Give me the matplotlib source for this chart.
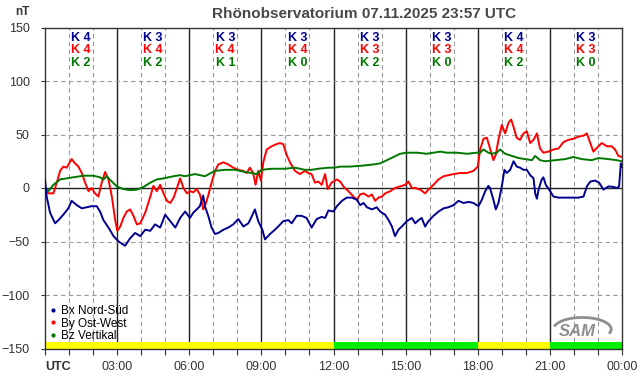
import numpy as np
import matplotlib.pyplot as plt
from matplotlib.patches import Arc

# Bx Nord-Süd (hours, nT)
bx_t = [0, 0.07, 0.21, 0.42, 0.56, 0.76, 0.97, 1.11, 1.32, 1.53, 1.74, 1.94, 2.15, 2.29, 2.43, 2.64, 2.85,
        3.06, 3.33, 3.54, 3.75, 3.96, 4.17, 4.38, 4.58, 4.79, 5.0, 5.21, 5.42, 5.62, 5.83, 6.03, 6.17,
        6.31, 6.44, 6.58, 6.65, 6.79, 6.93, 7.07, 7.21, 7.42, 7.62, 7.83, 8.04, 8.25, 8.46, 8.59, 8.73,
        8.87, 9.04, 9.15, 9.36, 9.56, 9.7, 9.91, 10.12, 10.26, 10.47, 10.67, 10.88, 11.09, 11.3, 11.51,
        11.65, 11.79, 12.0, 12.14, 12.35, 12.55, 12.76, 12.97, 13.11, 13.25, 13.39, 13.6, 13.8, 13.94,
        14.15, 14.29, 14.43, 14.56, 14.7, 14.84, 15.05, 15.26, 15.4, 15.54, 15.67, 15.81, 15.95, 16.16,
        16.37, 16.58, 16.78, 16.99, 17.2, 17.41, 17.62, 17.82, 18.03, 18.17, 18.31, 18.44, 18.51, 18.65,
        18.75, 18.86, 19.0, 19.11, 19.21, 19.35, 19.49, 19.62, 19.76, 19.9, 20.04, 20.18, 20.32, 20.39,
        20.46, 20.53, 20.66, 20.73, 20.83, 20.97, 21.15, 21.36, 21.64, 21.91, 22.19, 22.4, 22.54, 22.68,
        22.88, 23.05, 23.23, 23.44, 23.65, 23.78, 23.88, 23.95, 23.99]
bx_v = [8, -8, -23, -33, -30, -25, -19, -12, -16, -19, -18, -17, -17, -22, -30, -37, -45,
        -50, -54, -47, -42, -45, -39, -40, -34, -37, -25, -31, -37, -28, -22, -28, -23,
        -20, -17, -7, -17, -26, -37, -43, -42, -39, -37, -34, -29, -36, -33, -27, -20,
        -31, -39, -48, -43, -39, -36, -31, -30, -33, -26, -26, -28, -37, -29, -27,
        -28, -21, -22, -17, -12, -9, -9, -11, -16, -14, -18, -20, -18, -22,
        -25, -30, -36, -45, -39, -36, -31, -28, -33, -30, -28, -36, -31, -26,
        -22, -19, -18, -16, -12, -14, -13, -14, -17, -11, -3, 2, 0, -11,
        -20, -14, 1.5, 17, 14, 17, 25, 20, 19, 17, 17, 12, 9, -5,
        -10, -1.5, 8, 10, 3, -1.5, -8, -9, -9, -9, -9, -8, 1.5, 6,
        7, 5, -1.5, 1.5, 1, 0, 1.5, 23, 20]

# By Ost-West
by_t = [0, 0.14, 0.35, 0.49, 0.63, 0.76, 0.9, 1.11, 1.25, 1.39, 1.53, 1.67, 1.81, 1.94, 2.08, 2.22, 2.36,
        2.5, 2.64, 2.78, 2.92, 3.01, 3.13, 3.26, 3.4, 3.54, 3.68, 3.82, 3.96, 4.17, 4.38, 4.51, 4.65,
        4.79, 4.93, 5.07, 5.21, 5.35, 5.49, 5.62, 5.76, 5.9, 6.03, 6.17, 6.31, 6.44, 6.51, 6.58, 6.68,
        6.79, 6.93, 7.07, 7.21, 7.42, 7.62, 7.83, 8.04, 8.25, 8.39, 8.52, 8.66, 8.76, 8.87, 8.98, 9.08,
        9.22, 9.43, 9.63, 9.77, 9.91, 10.05, 10.19, 10.4, 10.6, 10.81, 10.95, 11.09, 11.23, 11.37, 11.51,
        11.65, 11.76, 11.92, 12.0, 12.14, 12.28, 12.41, 12.62, 12.83, 12.97, 13.11, 13.25, 13.46, 13.6,
        13.73, 13.87, 14.01, 14.15, 14.36, 14.56, 14.77, 14.98, 15.12, 15.26, 15.4, 15.61, 15.81, 15.95,
        16.16, 16.37, 16.58, 16.78, 16.99, 17.27, 17.55, 17.82, 17.96, 18.0, 18.1, 18.24, 18.38, 18.51,
        18.65, 18.75, 18.86, 19.0, 19.14, 19.28, 19.39, 19.49, 19.62, 19.76, 19.9, 20.04, 20.18, 20.32,
        20.46, 20.59, 20.73, 20.94, 21.15, 21.36, 21.57, 21.77, 21.98, 22.19, 22.4, 22.54, 22.68, 22.81,
        23.02, 23.16, 23.37, 23.57, 23.71, 23.85, 23.99]
by_v = [0, -5, -5, 5, 16, 20, 19, 27, 23, 20, 14, 5, -3, 0, -5, -8, 5,
        15, 8, -8, -30, -40, -36, -28, -22, -20, -26, -34, -33, -23, -8, 2, -3,
        3, -5, -12, -14, -9, 0, 9, 0, -5, -3, -4, -1, -6, -12, -20, -15,
        -7, 5, 16, 22, 24, 22, 19, 17, 16, 14, 19, 14, 3, 16, 7, 24,
        36, 39, 41, 42, 41, 31, 24, 16, 13, 16, 14, 13, 5, 6, 3,
        13, -1, 5, 6, 8, 6, 1.5, -3, -8, -11, -6, -5, -8, -6,
        -12, -9, -8, -5, -3, 0, 1.5, 3, 6, 0, 0, -1.5, -5, -1.5,
        3, 8, 11, 12, 13, 14, 14, 16, 19, 20, 36, 46, 47, 37,
        26, 31, 45, 59, 51, 61, 64, 57, 47, 45, 51, 53, 42, 45,
        51, 37, 33, 34, 36, 37, 43, 45, 46, 48, 49, 51, 42, 34,
        39, 42, 39, 39, 36, 30, 29]

# Bz Vertikal
bz_t = [0, 0.14, 0.35, 0.63, 0.9, 1.18, 1.6, 2.01, 2.29, 2.43, 2.57, 2.78, 2.99, 3.26, 3.54, 3.82, 4.1,
        4.38, 4.65, 4.93, 5.35, 5.62, 5.82, 6.24, 6.65, 7.07, 7.48, 7.9, 8.32, 8.59, 8.8, 9.01, 9.43,
        9.98, 10.4, 10.81, 11.09, 11.37, 11.79, 12.06, 12.28, 12.69, 13.25, 13.66, 13.94, 14.22, 14.5,
        14.77, 15.05, 15.47, 15.88, 16.16, 16.44, 16.72, 17.13, 17.55, 17.96, 18.1, 18.24, 18.44, 18.58,
        18.79, 18.93, 19.14, 19.42, 19.7, 19.97, 20.25, 20.39, 20.59, 20.8, 21.22, 21.64, 21.98, 22.33,
        22.74, 23.02, 23.44, 23.78, 23.99]
bz_v = [0, -3, 3, 8, 9, 10, 11.5, 11.5, 10, 8, 11, 6, 1.5, -1, -2, -1.5, 1,
        5, 8, 9, 11, 12, 11, 13, 11, 16, 17, 17, 15, 14, 13, 17, 18,
        18, 19, 17, 17, 18, 19, 19, 20, 20, 21, 22, 23, 26, 29,
        32, 33, 33, 32, 33, 34, 33, 33, 32, 33, 33, 36, 33, 32,
        33, 36, 32, 30, 28, 27, 26, 30, 26, 25, 26, 27, 29, 27,
        26, 28, 27, 26, 25]

k_bx = [4, 3, 3, 3, 3, 3, 4, 3]
k_by = [4, 4, 4, 4, 3, 3, 4, 3]
k_bz = [2, 2, 1, 0, 2, 0, 2, 0]

# activity bar: (start, end, colour)
status_start = [0, 12, 18, 21]
status_end = [12, 18, 21, 24]
status_col = ['#ffff00', '#00ee00', '#ffff00', '#00ee00']

yticks = [150, 100, 50, 0, -50, -100, -150]
xlabels = ['UTC', '03:00', '06:00', '09:00', '12:00', '15:00', '18:00', '21:00', '00:00']

plt.rcParams['font.family'] = ['Liberation Sans', 'DejaVu Sans']

fig = plt.figure(figsize=(6.42, 3.76), dpi=100)
ax = fig.add_axes([45 / 642, 1 - 348.5 / 376, 577 / 642, 321 / 376])
ax.set_xlim(0, 24)
ax.set_ylim(-150, 150)

# grid
for h in range(1, 24):
    if h % 3 == 0:
        ax.axvline(h, color='#222222', lw=1.0, zorder=1)
    else:
        ax.axvline(h, color='#999999', lw=0.8, ls=(0, (4, 3)), zorder=1)
for v in [100, 50, -50, -100]:
    ax.axhline(v, color='#999999', lw=0.8, ls=(0, (4, 3)), zorder=1)
ax.axhline(0, color='#222222', lw=1.0, zorder=1)

for s, e, c in zip(status_start, status_end, status_col):
    ax.fill_between([s, e], -150, -144, color=c, lw=0, zorder=2)

ax.plot(bx_t, bx_v, color='#000090', lw=1.4, zorder=4)
ax.plot(by_t, by_v, color='#ff0000', lw=1.4, zorder=3)
ax.plot(bz_t, bz_v, color='#007800', lw=1.4, zorder=3)

for i in range(8):
    xc = 1.5 + 3 * i
    ax.text(xc, 140.5, f'K {k_bx[i]}', color='#000090', ha='center', va='center', fontsize=9, fontweight='bold')
    ax.text(xc, 129, f'K {k_by[i]}', color='#ff0000', ha='center', va='center', fontsize=9, fontweight='bold')
    ax.text(xc, 117, f'K {k_bz[i]}', color='#007800', ha='center', va='center', fontsize=9, fontweight='bold')

# legend
h = [plt.Line2D([], [], ls='', marker='o', ms=2, color=c) for c in ['#000090', '#ff0000', '#007800']]
ax.legend(h, ['Bx Nord-Süd', 'By Ost-West', 'Bz Vertikal'], loc='lower left', frameon=False,
          handlelength=0.6, handletextpad=0.35, labelspacing=0.05,
          borderaxespad=0, bbox_to_anchor=(0.0, 0.005), prop={'size': 8.5})

# SAM logo
ax.text(22.15, -134, 'SAM', fontsize=12, style='italic', fontweight='bold', color='#8f8f8f',
        ha='center', va='center', zorder=5)
ax.add_patch(Arc((22.35, -132), 2.4, 22, theta1=-75, theta2=115, color='#8f8f8f', lw=2.0, zorder=5))

ax.set_yticks(yticks)
ax.set_xticks(range(0, 25, 3))
ax.set_xticklabels(xlabels)
ax.set_xticks(range(0, 25), minor=True)
ax.tick_params(axis='both', labelsize=9, colors='#333333', width=0.8)
ax.tick_params(axis='x', which='both', length=4, width=0.8, colors='#333333', pad=5)
ax.tick_params(axis='y', length=3, pad=8)
ax.get_xticklabels()[0].set_fontweight('bold')
ax.get_xticklabels()[0].set_horizontalalignment('left')
for sp in ax.spines.values():
    sp.set_color('#333333')
    sp.set_linewidth(1.0)

fig.text(22 / 642, 1 - 12 / 376, 'nT', fontsize=8.5, fontweight='bold', color='#333333', ha='center', va='center')
fig.text(364 / 642, 1 - 14 / 376, 'Rhönobservatorium 07.11.2025 23:57 UTC', fontsize=11,
         fontweight='bold', color='#484848', ha='center', va='center')

fig.savefig('out.png', dpi=100)
